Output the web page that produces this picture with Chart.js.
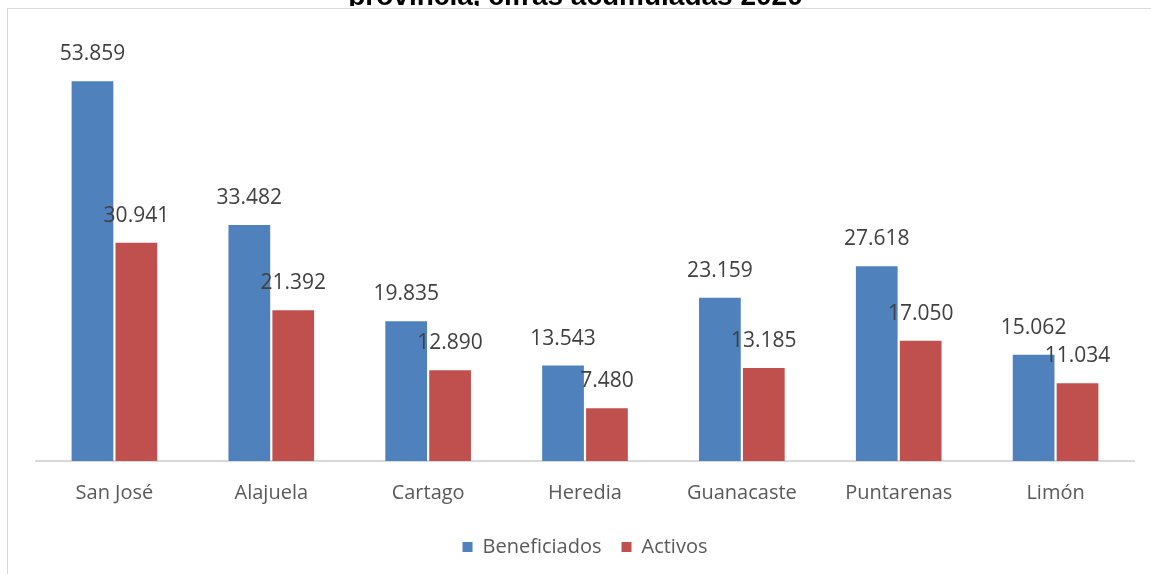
<!DOCTYPE html>
<html>
<head>
<meta charset="utf-8">
<script src="https://cdn.jsdelivr.net/npm/chart.js@4.4.1/dist/chart.umd.min.js"></script>
<style>
	html, body { margin: 0; padding: 0; background: #fff; overflow: hidden; }
	#wrap { position: absolute; left: 0; top: 0; width: 1151px; height: 574px; }
	#frame { position: absolute; left: 7px; top: 8px; width: 1200px; height: 600px; border-left: 1px solid #d9d9d9; border-top: 1px solid #d9d9d9; pointer-events: none; }
	#title { position: absolute; left: 0; top: -20px; width: 1151px; height: 26px; overflow: hidden; line-height: 32px; text-align: center; font: bold 28px "Liberation Sans", Arial, sans-serif; color: #000; }
</style>
</head>
<body>
<div id="wrap">
	<div id="title">provincia, cifras acumuladas 2020</div>
	<div id="frame"></div>
	<canvas id="provChart" width="1151" height="574"></canvas>
</div>
<script>
const provincias = ['San José', 'Alajuela', 'Cartago', 'Heredia', 'Guanacaste', 'Puntarenas', 'Limón'];
const beneficiados = [53859, 33482, 19835, 13543, 23159, 27618, 15062];
const activos = [30941, 21392, 12890, 7480, 13185, 17050, 11034];

// numbers with a dot as thousands separator, like the original
function fmt(v) {
	return v.toString().replace(/\B(?=(\d{3})+(?!\d))/g, '.');
}

const valueLabels = {
	id: 'valueLabels',
	afterDatasetsDraw(chart) {
		const ctx = chart.ctx;
		ctx.save();
		ctx.font = '21px "Open Sans"';
		ctx.fillStyle = '#404040';
		ctx.textAlign = 'center';
		ctx.textBaseline = 'middle';
		chart.data.datasets.forEach((ds, i) => {
			chart.getDatasetMeta(i).data.forEach((bar, j) => {
				ctx.fillText(fmt(ds.data[j]), bar.x, bar.y - 27);
			});
		});
		ctx.restore();
	}
};

const ctx = document.getElementById('provChart').getContext('2d');
const myChart = new Chart(ctx, {
	type: 'bar',
	data: {
		labels: provincias,
		datasets: [
			{
				label: 'Beneficiados',
				data: beneficiados,
				backgroundColor: '#4f81bd',
				categoryPercentage: 0.56,
				barPercentage: 0.95
			},
			{
				label: 'Activos',
				data: activos,
				backgroundColor: '#c0504d',
				categoryPercentage: 0.56,
				barPercentage: 0.95
			}
		]
	},
	options: {
		responsive: false,
		animation: false,
		layout: {
			padding: { left: 36, right: 17, top: 38, bottom: 7 }
		},
		scales: {
			y: {
				display: false,
				min: 0,
				max: 60000
			},
			x: {
				grid: { display: false },
				border: { color: '#d9d9d9', width: 2 },
				ticks: {
					color: '#595959',
					font: { family: 'Open Sans', size: 20 },
					padding: 12
				}
			}
		},
		plugins: {
			legend: {
				position: 'bottom',
				labels: {
					color: '#595959',
					font: { family: 'Open Sans', size: 20 },
					boxWidth: 10,
					boxHeight: 10,
					padding: 20
				}
			},
			tooltip: { enabled: false }
		}
	},
	plugins: [valueLabels]
});
</script>
</body>
</html>
